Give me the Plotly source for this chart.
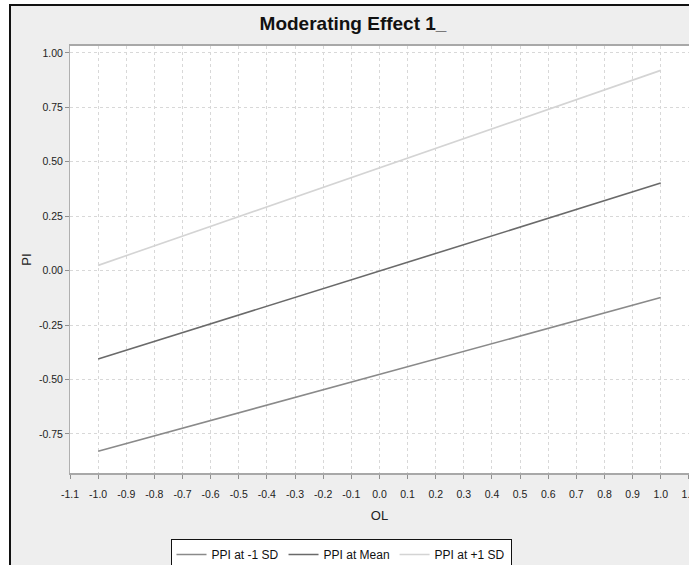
import plotly.graph_objects as go

# Data
series_names = ["PPI at -1 SD", "PPI at Mean", "PPI at +1 SD"]
ol_values = [-1.0, 1.0]
pi_low = [-0.83, -0.124]
pi_mean = [-0.406, 0.402]
pi_high = [0.024, 0.92]
line_colors = ["#8a8a8a", "#6a6a6a", "#d4d4d4"]

x_tickvals = [round(-1.1 + 0.1 * i, 1) for i in range(23)]
y_tickvals = [-0.75, -0.5, -0.25, 0.0, 0.25, 0.5, 0.75, 1.0]

FONT = "Liberation Sans Narrow, Arial Narrow, Liberation Sans, Arial, sans-serif"

fig = go.Figure()
for name, ys, col in zip(series_names, [pi_low, pi_mean, pi_high], line_colors):
    fig.add_trace(go.Scatter(x=ol_values, y=ys, mode="lines", name=name,
                             line=dict(color=col, width=1.6)))

W, H = 689, 565
L, R, T, B = 70, 0, 46, 92
pw = W - L - R
ph = H - T - B

def px_to_paper_x(px):
    return (px - L) / pw

def px_to_paper_y(py):
    return (H - B - py) / ph

# outer grey frame
fig.add_shape(type="rect", xref="paper", yref="paper",
              x0=px_to_paper_x(10), x1=px_to_paper_x(720),
              y0=px_to_paper_y(600), y1=px_to_paper_y(5),
              fillcolor="#eeeeee", line=dict(color="#111111", width=2),
              layer="below")
# white plot area
fig.add_shape(type="rect", xref="paper", yref="paper",
              x0=0, x1=1.02, y0=0, y1=1,
              fillcolor="white", line=dict(width=0),
              layer="below")

fig.update_layout(
    width=W, height=H,
    margin=dict(l=L, r=R, t=T, b=B, autoexpand=False),
    paper_bgcolor="white",
    plot_bgcolor="white",
    font=dict(family=FONT, size=11, color="#222222"),
    title=dict(text="<b>Moderating Effect 1_</b>", x=353 / W,
               xanchor="center", y=1 - 23 / H, yanchor="middle",
               font=dict(family=FONT, size=19, color="#111111")),
    showlegend=True,
    legend=dict(orientation="h", x=px_to_paper_x(341), xanchor="center",
                y=px_to_paper_y(539), yanchor="top",
                bgcolor="white", bordercolor="#111111", borderwidth=1,
                font=dict(family=FONT, size=12, color="#111111"),
                itemwidth=30, tracegroupgap=0),
)

fig.update_xaxes(range=[-1.1, 1.1005], tickvals=x_tickvals,
                 ticktext=[f"{v:.1f}" for v in x_tickvals],
                 showgrid=True, gridcolor="#d8d8d8", griddash="3px,3px", gridwidth=1,
                 showline=True, linecolor="#a8a8a8", linewidth=2, mirror=True,
                 ticks="outside", ticklen=4, tickcolor="#909090",
                 ticklabelstandoff=6,
                 zeroline=False, automargin=False, ticklabeloverflow="allow",
                 title=dict(text="OL", standoff=12, font=dict(family=FONT, size=13, color="#222222")),
                 tickfont=dict(family=FONT, size=10.5, color="#222222"))
fig.update_yaxes(range=[-0.93, 1.032], tickvals=y_tickvals,
                 ticktext=[f"{v:.2f}" for v in y_tickvals],
                 showgrid=True, gridcolor="#d8d8d8", griddash="3px,3px", gridwidth=1,
                 showline=True, linecolor="#b0b0b0", linewidth=1, mirror=False,
                 ticks="outside", ticklen=4, tickcolor="#909090",
                 zeroline=False, automargin=False,
                 title=dict(text="PI", standoff=4, font=dict(family=FONT, size=13, color="#222222")),
                 tickfont=dict(family=FONT, size=10.5, color="#222222"))

fig.write_html("out.html", config={"displayModeBar": False},
               post_script="document.body.style.margin='0';document.body.style.overflow='hidden';")
